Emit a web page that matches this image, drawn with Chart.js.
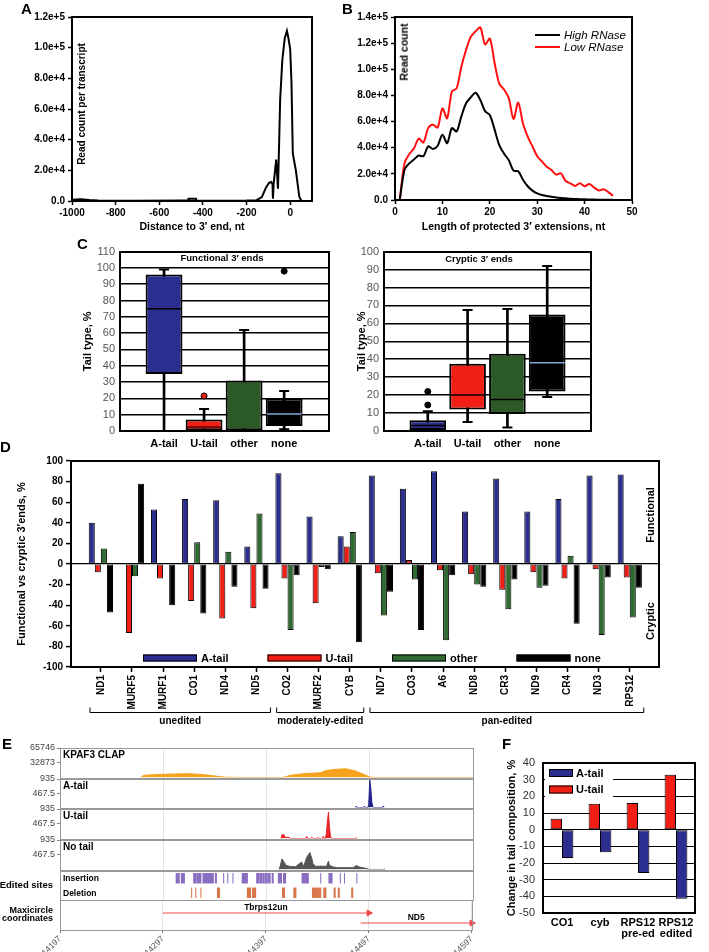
<!DOCTYPE html>
<html>
<head>
<meta charset="utf-8">
<script src="https://cdn.jsdelivr.net/npm/chart.js@4.4.1/dist/chart.umd.min.js"></script>
<style>
  body { margin: 0; background: #fff; width: 709px; height: 952px; position: relative; overflow: hidden;
         font-family: "Liberation Sans", Arial, sans-serif; }
  canvas { position: absolute; }
  .t { position: absolute; font-weight: bold; white-space: nowrap; color: #000; line-height: 1; }
  .p { font-size: 15px; }
  .r { transform: translate(-50%, -50%) rotate(-90deg); }
  .c { transform: translate(-50%, -50%); }
  .l { transform: translateY(-50%); }
  .rt { transform: translate(-100%, -50%); text-align: right; }
</style>
</head>
<body>
<canvas id="cA" width="322" height="236" style="left:0;top:0"></canvas>
<canvas id="cB" width="319" height="236" style="left:323px;top:0"></canvas>
<canvas id="cC1" width="280" height="215" style="left:55px;top:240px"></canvas>
<canvas id="cC2" width="254" height="215" style="left:345px;top:240px"></canvas>
<canvas id="cD" width="672" height="282" style="left:0;top:450px"></canvas>
<canvas id="e1" width="480" height="45" style="left:0;top:740px"></canvas>
<canvas id="e2" width="480" height="44" style="left:0;top:771px"></canvas>
<canvas id="e3" width="480" height="45" style="left:0;top:801px"></canvas>
<canvas id="e4" width="480" height="45" style="left:0;top:832px"></canvas>
<canvas id="e5" width="480" height="43" style="left:0;top:863px"></canvas>
<canvas id="e6" width="480" height="60" style="left:0;top:892px"></canvas>
<canvas id="cF" width="239" height="212" style="left:470px;top:740px"></canvas>

<div class="t p" style="left:21px;top:1px">A</div>
<div class="t p" style="left:342px;top:1px">B</div>
<div class="t p" style="left:77px;top:236px">C</div>
<div class="t p" style="left:0;top:439px">D</div>
<div class="t p" style="left:2px;top:736px">E</div>
<div class="t p" style="left:502px;top:736px">F</div>

<div class="t r" style="left:82px;top:104px;font-size:10px">Read count per transcript</div>
<div class="t r" style="left:404px;top:52px;font-size:10.5px">Read count</div>
<div class="t c" style="left:222px;top:258px;font-size:9.5px">Functional 3′ ends</div>
<div class="t c" style="left:479px;top:259px;font-size:9.5px">Cryptic 3′ ends</div>
<div class="t r" style="left:650px;top:515px;font-size:11px">Functional</div>
<div class="t r" style="left:650px;top:621px;font-size:11px">Cryptic</div>

<div class="t l" style="left:63px;top:755px;font-size:10px">KPAF3 CLAP</div>
<div class="t l" style="left:63px;top:786px;font-size:10px">A-tail</div>
<div class="t l" style="left:63px;top:816px;font-size:10px">U-tail</div>
<div class="t l" style="left:63px;top:847px;font-size:10px">No tail</div>
<div class="t l" style="left:63px;top:878px;font-size:8.5px">Insertion</div>
<div class="t l" style="left:63px;top:893px;font-size:8.5px">Deletion</div>
<div class="t rt" style="left:53px;top:885px;font-size:9.5px">Edited sites</div>
<div class="t rt" style="left:53px;top:914px;font-size:9px;line-height:8px">Maxicircle<br>coordinates</div>

<script>
// ---- data ----
// A: read count vs distance to 3' end
const A_DIST = [-1000, -960, -920, -880, -700, -500, -468, -466, -432, -430, -300, -200, -154, -130, -121, -110, -97, -87, -81, -79, -76, -64, -56, -52, -46, -36, -25, -15, -9, 0, 6, 12, 26, 42, 52];
const A_COUNT = [800, 1200, 600, 300, 200, 300, 300, 1500, 1500, 300, 200, 300, 500, 2500, 5500, 9000, 11800, 12400, 11000, 1500, 11000, 27000, 8000, 30000, 66000, 92000, 106000, 111000, 107000, 99000, 77000, 31000, 20000, 2600, 0];
const A_XTICKS = [-1000, -800, -600, -400, -200, 0];
const A_YTICKS = [0, 20000, 40000, 60000, 80000, 100000, 120000];

// B: length of protected 3' extensions
const B_LEN = [1, 2, 3, 4, 5, 6, 7, 8, 9, 10, 11, 12, 13, 14, 15, 16, 17, 18, 19, 20, 21, 22, 23, 24, 25, 26, 27, 28, 29, 30, 31, 32, 33, 34, 35, 36, 37, 38, 39, 40, 41, 42, 43, 44, 45, 46];
const B_HIGH = [0, 23000, 28000, 31000, 34000, 33500, 41000, 39000, 41500, 50000, 43500, 55000, 52500, 64000, 74000, 78500, 82000, 76500, 68000, 65000, 54000, 42000, 35500, 30500, 22500, 22000, 15500, 10500, 7200, 5000, 3800, 3000, 2500, 2000, 1600, 1300, 1000, 800, 600, 500, 400, 300, 250, 200, 150, 100];
const B_LOW = [0, 28000, 35000, 39500, 47000, 44000, 55000, 57500, 55500, 70000, 62500, 83000, 85500, 102000, 115000, 125000, 129000, 132000, 119000, 123500, 105000, 89000, 84500, 78000, 62000, 74500, 58500, 48500, 41000, 33500, 29500, 25500, 23000, 19500, 20500, 14500, 12800, 10800, 12800, 10500, 12300, 9500, 7300, 8300, 6000, 3200];
const B_XTICKS = [0, 10, 20, 30, 40, 50];
const B_YTICKS = [0, 20000, 40000, 60000, 80000, 100000, 120000, 140000];

// C: tail type box plots
const BOX_CATS = ['A-tail', 'U-tail', 'other', 'none'];
const FUNC_YTICKS = [0, 10, 20, 30, 40, 50, 60, 70, 80, 90, 100, 110];
const FUNC_Q1 = [35, 0, 0, 3];
const FUNC_Q3 = [96, 7, 31, 20];
const FUNC_MED = [75, 2.5, 0, 10.5];
const FUNC_LOW = [0, 0, 0, 1];
const FUNC_HIGH = [99, 13.5, 62, 24.5];
const FUNC_OUT = [[], [21.5], [], [98]];
const CRYP_YTICKS = [0, 10, 20, 30, 40, 50, 60, 70, 80, 90, 100];
const CRYP_Q1 = [0.5, 12, 9.5, 22];
const CRYP_Q3 = [6, 37.5, 43, 65];
const CRYP_MED = [3, 20, 17.5, 38];
const CRYP_LOW = [0, 5, 2, 19];
const CRYP_HIGH = [11, 67.5, 68, 92];
const CRYP_OUT = [[14.5, 22], [], [], []];

// D: functional vs cryptic 3' ends per gene
const D_GENES = ['ND1', 'MURF5', 'MURF1', 'CO1', 'ND4', 'ND5', 'CO2', 'MURF2', 'CYB', 'ND7', 'CO3', 'A6', 'ND8', 'CR3', 'ND9', 'CR4', 'ND3', 'RPS12'];
const D_ATAIL = [40, 0, 53, 63, 62, 17, 88, 46, 27, 86, 73, 90, 51, 83, 51, 63, 86, 87];
const D_UTAIL = [-8, -67, -14, -36, -53, -43, -14, -38, 17, -9, 4, -6, -10, -25, -8, -14, -5, -13];
const D_OTHER = [15, -12, 0, 21, 12, 49, -64, -3, 31, -50, -15, -74, -20, -44, -23, 8, -69, -52];
const D_NONE = [-47, 78, -40, -48, -22, -24, -11, -5, -76, -27, -64, -11, -22, -15, -21, -58, -13, -23];
const D_YTICKS = [-100, -80, -60, -40, -20, 0, 20, 40, 60, 80, 100];
const D_GROUPS = ['unedited', 'moderately-edited', 'pan-edited'];
const D_GROUP_FIRST = [0, 6, 9];
const D_GROUP_LAST = [5, 8, 17];

// E: genome browser tracks (maxicircle coordinates)
const E_TICKS = [14197, 14297, 14397, 14497, 14597];
const KPAF3_YTICKS = [32873, 65746];
const READS_YTICKS = [467.5, 935];
const KPAF3_POS = [14275, 14278, 14294, 14320, 14333, 14342, 14352, 14358, 14371, 14397, 14413, 14420, 14433, 14449, 14455, 14462, 14474, 14484, 14491, 14497, 14502, 14597];
const KPAF3_VAL = [0, 5000, 7200, 8700, 7200, 5000, 2200, 700, 300, 300, 300, 5000, 8700, 10800, 15800, 18000, 19500, 14300, 7200, 1300, 300, 300];
const ATAIL_POS = [14483, 14484, 14485, 14491, 14492, 14493, 14495, 14496, 14497, 14498, 14499, 14500, 14501, 14509, 14510, 14511];
const ATAIL_VAL = [0, 50, 0, 0, 50, 0, 0, 90, 905, 630, 180, 30, 0, 0, 50, 0];
const UTAIL_POS = [14411, 14412, 14414, 14415, 14417, 14419, 14420, 14435, 14436, 14437, 14440, 14441, 14442, 14446, 14447, 14448, 14451, 14452, 14453, 14454, 14455, 14456, 14457, 14458, 14459, 14460, 14483, 14484, 14485];
const UTAIL_VAL = [0, 120, 120, 40, 40, 40, 0, 0, 70, 0, 0, 40, 0, 0, 40, 0, 0, 70, 0, 0, 170, 560, 836, 360, 70, 0, 0, 30, 0];
const NOTAIL_POS = [14409, 14410, 14412, 14413, 14416, 14420, 14425, 14431, 14433, 14436, 14438, 14439, 14441, 14442, 14445, 14450, 14455, 14457, 14458, 14462, 14465, 14475, 14481, 14484, 14487, 14493, 14497, 14510, 14511, 14512];
const NOTAIL_VAL = [0, 80, 340, 290, 130, 100, 90, 240, 100, 390, 490, 540, 340, 180, 100, 110, 100, 267, 130, 80, 60, 60, 60, 130, 80, 40, 0, 0, 20, 0];
const E_ROWS = ['Insertion', 'Deletion'];
const INS_SITES = [[14309, 14312], [14314, 14317], [14326, 14328], [14329, 14333], [14335, 14345], [14347, 14348], [14355, 14355], [14359, 14359], [14364, 14364], [14373, 14378], [14387, 14389], [14390, 14392], [14393, 14394], [14395, 14397], [14398, 14400], [14402, 14403], [14408, 14411], [14413, 14415], [14431, 14437], [14449, 14449], [14457, 14460], [14468, 14468], [14472, 14472], [14484, 14484]];
const DEL_SITES = [[14324, 14324], [14328, 14328], [14333, 14333], [14349, 14351], [14378, 14381], [14383, 14386], [14412, 14414], [14423, 14425], [14441, 14443], [14444, 14446], [14447, 14449], [14452, 14454], [14462, 14463], [14466, 14467], [14479, 14480]];
const MAXI_GENES = ['Tbrps12un', 'ND5'];
const MAXI_START = [14297, 14489];
const MAXI_END = [14497, 14597];
const MAXI_LANE = [1, 0];

// F: change in tail composition
const F_CATS = ['CO1', 'cyb', ['RPS12', 'pre-ed'], ['RPS12', 'edited']];
const F_UTAIL = [6.5, 15.5, 16, 33];
const F_ATAIL = [-17, -13.5, -26, -41.5];
const F_YTICKS = [-50, -40, -30, -20, -10, 0, 10, 20, 30, 40];

// ---- colours ----
const NAVY = '#2b2d8f', RED = '#f01e14', GREEN = '#2f6a30', BOXGREEN = '#2c5a27';
const FONT = '"Liberation Sans", Arial, sans-serif';

Chart.defaults.font.family = FONT;
Chart.defaults.color = '#000';
Chart.defaults.animation = false;
Chart.defaults.responsive = false;
Chart.defaults.layout.autoPadding = false;
Chart.defaults.plugins.legend.display = false;
Chart.defaults.plugins.tooltip.enabled = false;

// ---- small plugins ----
const frame = {
  id: 'frame',
  afterDatasetsDraw(chart, args, o) {
    const { ctx, chartArea: a } = chart;
    const w = o.width || 2, h = w % 2 ? 0.5 : 0;
    ctx.save();
    ctx.strokeStyle = o.color || '#000';
    ctx.lineWidth = w;
    ctx.strokeRect(Math.round(a.left) + h, Math.round(a.top) + h, Math.round(a.right - a.left), Math.round(a.bottom - a.top));
    ctx.restore();
  }
};

const boxLegend = {
  id: 'boxLegend',
  afterDatasetsDraw(chart, args, o) {
    if (!o.txt) return;
    const { ctx, chartArea: a } = chart;
    let sets = chart.data.datasets.filter(d => d.label);
    if (o.reverse) sets = sets.slice().reverse();
    ctx.save();
    if (o.bg) {
      ctx.fillStyle = '#fff';
      ctx.fillRect(a.left + o.bg[0], a.top + o.bg[1], o.bg[2], o.bg[3]);
    }
    ctx.font = o.txt;
    ctx.textBaseline = 'middle';
    sets.forEach((d, i) => {
      const x = a.left + o.x + i * (o.dx || 0);
      const y = (o.fromBottom ? a.bottom - o.y : a.top + o.y) + i * (o.dy || 0);
      if (o.line) {
        ctx.strokeStyle = d.borderColor;
        ctx.lineWidth = 2;
        ctx.beginPath(); ctx.moveTo(x, y); ctx.lineTo(x + o.w, y); ctx.stroke();
      } else {
        ctx.fillStyle = d.backgroundColor;
        ctx.fillRect(x, y - o.h / 2, o.w, o.h);
        ctx.strokeStyle = '#000';
        ctx.lineWidth = 1;
        ctx.strokeRect(x + 0.5, y - o.h / 2 + 0.5, o.w - 1, o.h - 1);
      }
      ctx.fillStyle = '#000';
      ctx.fillText(d.label, x + o.w + o.gap, y + 0.5);
    });
    ctx.restore();
  }
};

// brackets under panel D gene names
const brackets = {
  id: 'brackets',
  afterDraw(chart) {
    const { ctx, scales: { x }, chartArea: a } = chart;
    const y = Math.round(a.bottom + 45) + 0.5;
    ctx.save();
    ctx.strokeStyle = '#000';
    ctx.lineWidth = 1;
    ctx.fillStyle = '#000';
    ctx.font = 'bold 10px ' + FONT;
    ctx.textAlign = 'center';
    ctx.textBaseline = 'middle';
    D_GROUPS.forEach((g, i) => {
      const x0 = x.getPixelForValue(D_GROUP_FIRST[i] - 0.35);
      const x1 = x.getPixelForValue(D_GROUP_LAST[i] + 0.45);
      ctx.beginPath();
      ctx.moveTo(x0, y - 5); ctx.lineTo(x0, y); ctx.lineTo(x1, y); ctx.lineTo(x1, y - 5);
      ctx.stroke();
      ctx.fillText(g, (x0 + x1) / 2, y + 9);
    });
    ctx.restore();
  }
};

// gene names above maxicircle arrows
const geneLabels = {
  id: 'geneLabels',
  afterDatasetsDraw(chart) {
    const { ctx, scales: { x, y } } = chart;
    ctx.save();
    ctx.font = 'bold 8.5px ' + FONT;
    ctx.textAlign = 'center';
    ctx.textBaseline = 'bottom';
    ctx.fillStyle = '#000';
    chart.data.datasets.forEach(d => {
      const p = d.data;
      ctx.fillText(d.label, x.getPixelForValue((p[0].x + p[1].x) / 2), y.getPixelForValue(p[0].y) - 1);
    });
    ctx.restore();
  }
};

const sci = v => v === 0 ? '0.0' : v.toExponential(1);
const pts = (xs, ys) => xs.map((x, i) => ({ x: x, y: ys[i] }));

// ---- Panel A ----
new Chart(document.getElementById('cA'), {
  type: 'line',
  data: { datasets: [{ data: pts(A_DIST, A_COUNT), borderColor: '#000', borderWidth: 2, pointRadius: 0, tension: 0 }] },
  options: {
    devicePixelRatio: 1,
    layout: { padding: { top: 17, right: 10, left: 0, bottom: 0 } },
    scales: {
      x: {
        type: 'linear', min: -1000, max: 100,
        afterBuildTicks: s => { s.ticks = A_XTICKS.map(v => ({ value: v })); },
        ticks: { font: { size: 10, weight: 'bold' }, padding: 2, maxRotation: 0, callback: v => String(v) },
        grid: { drawOnChartArea: false, tickLength: 4, tickColor: '#000', tickWidth: 1.5 },
        border: { color: '#000', width: 2 },
        title: { display: true, text: 'Distance to 3′ end, nt', font: { size: 10.5, weight: 'bold' }, padding: { top: 0, bottom: 3 } },
        afterFit: s => { s.height = 35; }
      },
      y: {
        min: 0, max: 120000,
        afterBuildTicks: s => { s.ticks = A_YTICKS.map(v => ({ value: v })); },
        ticks: { font: { size: 10, weight: 'bold' }, padding: 3, callback: sci },
        grid: { drawOnChartArea: false, tickLength: 4, tickColor: '#000', tickWidth: 1.5 },
        border: { color: '#000', width: 2 },
        afterFit: s => { s.width = 72; }
      }
    },
    plugins: { frame: { width: 2 } }
  },
  plugins: [frame]
});

// ---- Panel B ----
new Chart(document.getElementById('cB'), {
  type: 'line',
  data: {
    datasets: [
      { label: 'High RNase', data: pts(B_LEN, B_HIGH), borderColor: '#000', borderWidth: 2, pointRadius: 0, tension: 0.3 },
      { label: 'Low RNase', data: pts(B_LEN, B_LOW), borderColor: '#ff1010', borderWidth: 2, pointRadius: 0, tension: 0.3 }
    ]
  },
  options: {
    devicePixelRatio: 1,
    layout: { padding: { top: 17, right: 10, left: 0, bottom: 0 } },
    scales: {
      x: {
        type: 'linear', min: 0, max: 50,
        afterBuildTicks: s => { s.ticks = B_XTICKS.map(v => ({ value: v })); },
        ticks: { font: { size: 10, weight: 'bold' }, padding: 2, maxRotation: 0 },
        grid: { drawOnChartArea: false, tickLength: 4, tickColor: '#000', tickWidth: 1.5 },
        border: { color: '#000', width: 2 },
        title: { display: true, text: 'Length of protected 3′ extensions, nt', font: { size: 10.5, weight: 'bold' }, padding: { top: 0, bottom: 3 } },
        afterFit: s => { s.height = 36; }
      },
      y: {
        min: 0, max: 140000,
        afterBuildTicks: s => { s.ticks = B_YTICKS.map(v => ({ value: v })); },
        ticks: { font: { size: 10, weight: 'bold' }, padding: 3, callback: sci },
        grid: { drawOnChartArea: false, tickLength: 4, tickColor: '#000', tickWidth: 1.5 },
        border: { color: '#000', width: 2 },
        afterFit: s => { s.width = 72; }
      }
    },
    plugins: {
      frame: { width: 2 },
      boxLegend: { line: true, x: 140, y: 18, dy: 12, w: 25, gap: 4, txt: 'italic 11.5px ' + FONT }
    }
  },
  plugins: [frame, boxLegend]
});

// ---- Panel C: box plots ----
function boxChart(id, yTicks, padLeft, padRight, axisW, xMax, q1, q3, med, low, high, out, medColor, outColor) {
  const idx = BOX_CATS.map((c, i) => i);
  const outPts = [], outBg = [];
  out.forEach((vals, i) => vals.forEach(v => { outPts.push({ x: i, y: v }); outBg.push(outColor[i]); }));
  return new Chart(document.getElementById(id), {
    type: 'bar',
    data: {
      datasets: [
        { type: 'bar', data: idx.map(i => ({ x: i, y: [low[i], high[i]] })), backgroundColor: '#000', barThickness: 2, grouped: false, order: 3 },
        { type: 'bar', data: idx.map(i => ({ x: i, y: [q1[i], q3[i]] })), backgroundColor: [NAVY, RED, BOXGREEN, '#000'],
          borderColor: '#000', borderWidth: 2, borderSkipped: false, barPercentage: 0.92, categoryPercentage: 1, grouped: false, order: 2 },
        { type: 'scatter', data: pts(idx, low).concat(pts(idx, high)), pointStyle: 'line', pointRadius: 5, borderColor: '#000', borderWidth: 2, order: 1 },
        { type: 'scatter', data: pts(idx, med), pointStyle: 'line', pointRadius: 17.5, borderColor: medColor, borderWidth: 1.5, order: 0 },
        { type: 'scatter', data: outPts, pointStyle: 'circle', pointRadius: 3, backgroundColor: outBg, borderColor: '#000', borderWidth: 1, order: 0 }
      ]
    },
    options: {
      devicePixelRatio: 1,
      layout: { padding: { top: 10, right: padRight, left: padLeft, bottom: 0 } },
      scales: {
        x: {
          type: 'linear', min: -1.1, max: xMax, offset: false,
          afterBuildTicks: s => { s.ticks = idx.map(v => ({ value: v })); },
          ticks: { font: { size: 11, weight: 'bold' }, padding: 6, maxRotation: 0, callback: v => BOX_CATS[v] },
          grid: { display: false, drawTicks: false, offset: false },
          border: { display: false },
          afterFit: s => { s.height = 24; }
        },
        y: {
          min: 0, max: yTicks[yTicks.length - 1],
          afterBuildTicks: s => { s.ticks = yTicks.map(v => ({ value: v })); },
          ticks: { color: '#555', font: { size: 11 }, padding: 5 },
          grid: { color: '#000', lineWidth: 1.5, drawTicks: false },
          border: { display: false },
          title: { display: true, text: 'Tail type, %', font: { size: 11, weight: 'bold' }, padding: 0 },
          afterFit: s => { s.width = axisW; }
        }
      },
      plugins: { frame: { width: 2 } }
    },
    plugins: [frame]
  });
}

boxChart('cC1', FUNC_YTICKS, 26, 6, 39, 4.12, FUNC_Q1, FUNC_Q3, FUNC_MED, FUNC_LOW, FUNC_HIGH, FUNC_OUT,
  ['#000', '#600', '#000', '#7fa7d8'], ['#000', RED, '#000', '#000']);
boxChart('cC2', CRYP_YTICKS, 10, 8, 29, 4.1, CRYP_Q1, CRYP_Q3, CRYP_MED, CRYP_LOW, CRYP_HIGH, CRYP_OUT,
  ['#000', '#000', '#000', '#7fa7d8'], ['#000', '#000', '#000', '#000']);

// ---- Panel D ----
new Chart(document.getElementById('cD'), {
  type: 'bar',
  data: {
    datasets: [
      { label: 'A-tail', data: D_ATAIL.map((v, i) => ({ x: i, y: v })), backgroundColor: NAVY },
      { label: 'U-tail', data: D_UTAIL.map((v, i) => ({ x: i, y: v })), backgroundColor: RED },
      { label: 'other', data: D_OTHER.map((v, i) => ({ x: i, y: v })), backgroundColor: GREEN },
      { label: 'none', data: D_NONE.map((v, i) => ({ x: i, y: v })), backgroundColor: '#000' }
    ]
  },
  options: {
    devicePixelRatio: 1,
    layout: { padding: { top: 11, right: 13, left: 15, bottom: 0 } },
    datasets: { bar: { categoryPercentage: 0.78, barPercentage: 1, borderColor: '#000', borderWidth: 1, borderSkipped: false } },
    scales: {
      x: {
        type: 'linear', min: -0.96, max: 17.94, offset: false,
        afterBuildTicks: s => { s.ticks = D_GENES.map((g, i) => ({ value: i })); },
        ticks: { callback: v => D_GENES[v], minRotation: 90, maxRotation: 90, autoSkip: false, font: { size: 10, weight: 'bold' }, padding: 3 },
        grid: { drawOnChartArea: false, offset: false, tickLength: 5, tickColor: '#000', tickWidth: 1.5 },
        border: { color: '#000', width: 2 },
        afterFit: s => { s.height = 65; }
      },
      y: {
        min: -100, max: 100,
        afterBuildTicks: s => { s.ticks = D_YTICKS.map(v => ({ value: v })); },
        ticks: { font: { size: 10, weight: 'bold' }, padding: 3 },
        grid: { color: c => (c.tick && c.tick.value === 0) ? '#000' : 'rgba(0,0,0,0)', lineWidth: 1.2, tickColor: '#000', tickLength: 5, tickWidth: 1.5 },
        border: { color: '#000', width: 2 },
        title: { display: true, text: 'Functional vs cryptic 3′ends, %', font: { size: 11, weight: 'bold' }, padding: 0 },
        afterFit: s => { s.width = 56; }
      }
    },
    plugins: {
      frame: { width: 2 },
      boxLegend: { x: 72, fromBottom: true, y: 9, dx: 124.5, w: 54, h: 7, gap: 4, txt: 'bold 11px ' + FONT }
    }
  },
  plugins: [frame, boxLegend, brackets]
});

// ---- Panel E: genome tracks ----
function eX(show) {
  return {
    type: 'linear', min: E_TICKS[0], max: E_TICKS[E_TICKS.length - 1], offset: false,
    afterBuildTicks: s => { s.ticks = E_TICKS.map(v => ({ value: v })); },
    ticks: { display: show, minRotation: 45, maxRotation: 45, autoSkip: false, color: '#555', font: { size: 8.5 }, padding: 1, callback: v => String(v) },
    grid: { color: '#e3e3e3', drawTicks: show, tickLength: 3, tickColor: '#777', offset: false },
    border: { display: false },
    afterFit: s => { s.height = show ? 22 : 6; }
  };
}
function eY(ticks) {
  return {
    min: 0, max: ticks[ticks.length - 1],
    afterBuildTicks: s => { s.ticks = ticks.map(v => ({ value: v })); },
    ticks: { color: '#444', font: { size: 9 }, padding: 2, callback: v => String(v) },
    grid: { drawOnChartArea: false, tickLength: 3, tickColor: '#888' },
    border: { display: false },
    afterFit: s => { s.width = 60; }
  };
}
function signalTrack(id, xs, ys, ticks, color) {
  return new Chart(document.getElementById(id), {
    type: 'line',
    data: { datasets: [{ data: pts(xs, ys), borderColor: color, backgroundColor: color, borderWidth: 1, pointRadius: 0, tension: 0, fill: 'origin' }] },
    options: {
      devicePixelRatio: 1,
      layout: { padding: { top: 8, right: 7, left: 0, bottom: 0 } },
      scales: { x: eX(false), y: eY(ticks) },
      plugins: { frame: { width: 1, color: '#999' } }
    },
    plugins: [frame]
  });
}
signalTrack('e1', KPAF3_POS, KPAF3_VAL, KPAF3_YTICKS, '#f5a21c');
signalTrack('e2', ATAIL_POS, ATAIL_VAL, READS_YTICKS, '#22238a');
signalTrack('e3', UTAIL_POS, UTAIL_VAL, READS_YTICKS, '#e8252a');
signalTrack('e4', NOTAIL_POS, NOTAIL_VAL, READS_YTICKS, '#555');

// edited sites as floating horizontal bars
new Chart(document.getElementById('e5'), {
  type: 'bar',
  data: {
    labels: E_ROWS,
    datasets: [
      { label: 'Insertion', data: INS_SITES.map(s => ({ x: [s[0], s[1] + 1], y: E_ROWS[0] })), backgroundColor: '#8a6cc1' },
      { label: 'Deletion', data: DEL_SITES.map(s => ({ x: [s[0], s[1] + 1], y: E_ROWS[1] })), backgroundColor: '#d9774a' }
    ]
  },
  options: {
    indexAxis: 'y',
    devicePixelRatio: 1,
    layout: { padding: { top: 8, right: 7, left: 60, bottom: 0 } },
    datasets: { bar: { grouped: false, barPercentage: 0.72, categoryPercentage: 1, borderWidth: 0 } },
    scales: { x: eX(false), y: { type: 'category', display: false } },
    plugins: { frame: { width: 1, color: '#999' } }
  },
  plugins: [frame]
});

// maxicircle gene arrows
new Chart(document.getElementById('e6'), {
  type: 'line',
  data: {
    datasets: MAXI_GENES.map((g, i) => ({
      label: g,
      data: [{ x: MAXI_START[i], y: MAXI_LANE[i] }, { x: MAXI_END[i], y: MAXI_LANE[i] }],
      borderColor: '#f04a4a', backgroundColor: '#f04a4a', borderWidth: 1,
      pointRadius: [0, 3.5], pointStyle: 'triangle', rotation: 90, clip: false
    }))
  },
  options: {
    devicePixelRatio: 1,
    layout: { padding: { top: 8, right: 7, left: 60, bottom: 0 } },
    scales: { x: eX(true), y: { min: -0.7, max: 2.3, display: false } },
    plugins: { frame: { width: 1, color: '#999' } }
  },
  plugins: [frame, geneLabels]
});

// ---- Panel F ----
new Chart(document.getElementById('cF'), {
  type: 'bar',
  data: {
    labels: F_CATS,
    datasets: [
      { label: 'U-tail', data: F_UTAIL, backgroundColor: RED },
      { label: 'A-tail', data: F_ATAIL, backgroundColor: NAVY }
    ]
  },
  options: {
    devicePixelRatio: 1,
    layout: { padding: { top: 23, right: 14, left: 35, bottom: 0 } },
    datasets: { bar: { categoryPercentage: 0.6, barPercentage: 1, borderColor: '#000', borderWidth: 1, borderSkipped: false } },
    scales: {
      x: {
        grid: { display: false, drawTicks: false },
        border: { display: false },
        ticks: { font: { size: 11, weight: 'bold', lineHeight: 1.05 }, padding: 4, maxRotation: 0 },
        afterFit: s => { s.height = 39; }
      },
      y: {
        min: -50, max: 40,
        afterBuildTicks: s => { s.ticks = F_YTICKS.map(v => ({ value: v })); },
        ticks: { font: { size: 11 }, color: '#333', padding: 8 },
        grid: { color: '#000', lineWidth: 1, drawTicks: false },
        border: { display: false },
        title: { display: true, text: 'Change in tail composition, %', font: { size: 11, weight: 'bold' }, padding: 0 },
        afterFit: s => { s.width = 38; }
      }
    },
    plugins: {
      frame: { width: 2 },
      boxLegend: { reverse: true, x: 6, y: 10, dy: 16.5, w: 24, h: 8, gap: 3, bg: [2, 2, 68, 34], txt: 'bold 11px ' + FONT }
    }
  },
  plugins: [frame, boxLegend]
});
</script>
</body>
</html>
